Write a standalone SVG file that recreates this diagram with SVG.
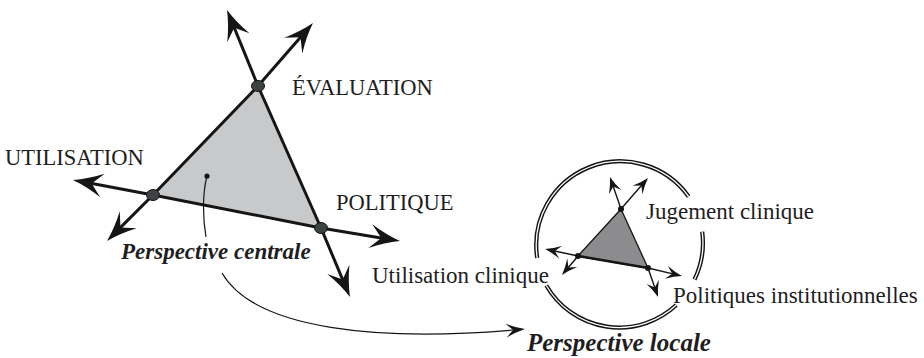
<svg xmlns="http://www.w3.org/2000/svg" width="924" height="358" viewBox="0 0 924 358" font-family="'Liberation Serif', 'Times New Roman', Times, serif">
<style>
text{font-family:"Liberation Serif","Times New Roman",Times,serif;fill:#1e1e1e}
.cap{font-size:22.5px}
.lab{font-size:23px}
.bi{font-size:23px;font-weight:bold;font-style:italic}
.ax{stroke:#151515;stroke-width:3;fill:none;marker-end:url(#ahB)}
.axs{stroke:#151515;stroke-width:1.4;fill:none;marker-end:url(#ahS)}
.ring{fill:none;stroke:#151515;stroke-width:4.2}
.ringw{fill:none;stroke:#fff;stroke-width:1.3}
</style>
<defs>
<marker id="ahB" markerUnits="userSpaceOnUse" orient="auto" markerWidth="50" markerHeight="50" refX="0" refY="0" viewBox="-25 -25 50 50" overflow="visible">
<path d="M10,0 Q-5,-4 -20,-12 L-9,0 L-20,12 Q-5,4 10,0 Z" fill="#151515"/>
</marker>
<marker id="ahS" markerUnits="userSpaceOnUse" orient="auto" markerWidth="30" markerHeight="30" refX="0" refY="0" viewBox="-15 -15 30 30" overflow="visible">
<path d="M5,0 Q-3,-2.2 -11,-6.5 L-5,0 L-11,6.5 Q-3,2.2 5,0 Z" fill="#151515"/>
</marker>
<marker id="ahM" markerUnits="userSpaceOnUse" orient="auto" markerWidth="30" markerHeight="30" refX="0" refY="0" viewBox="-15 -15 30 30" overflow="visible">
<path d="M6,0 Q-4,-2.5 -13,-7 L-6,0 L-13,7 Q-4,2.5 6,0 Z" fill="#151515"/>
</marker>
</defs>

<g id="central-perspective">
<polygon points="258,86 153,195 321,228" fill="#c8c9cb" stroke="#151515" stroke-width="3" stroke-linejoin="round"/>
<g id="axes-central">
<line class="ax" x1="258" y1="86" x2="306.4" y2="30.5"/>
<line class="ax" x1="258" y1="86" x2="230.8" y2="19.3"/>
<line class="ax" x1="153" y1="195" x2="82.8" y2="181.8"/>
<line class="ax" x1="153" y1="195" x2="114.1" y2="233.9"/>
<line class="ax" x1="321" y1="228" x2="390.1" y2="239.4"/>
<line class="ax" x1="321" y1="228" x2="346.1" y2="287.8"/>
</g>
<g id="vertex-evaluation"><ellipse cx="258" cy="86" rx="6.5" ry="5.5" fill="#3d4245" stroke="#151515" stroke-width="1"/></g>
<g id="vertex-utilisation"><ellipse cx="153" cy="195" rx="6.5" ry="5.5" fill="#3d4245" stroke="#151515" stroke-width="1"/></g>
<g id="vertex-politique"><ellipse cx="321" cy="228" rx="6.5" ry="5.5" fill="#3d4245" stroke="#151515" stroke-width="1"/></g>
<circle cx="207" cy="176" r="2.6" fill="#151515"/>
<path d="M207,176 C202,195 203,220 206,237" fill="none" stroke="#151515" stroke-width="1.2"/>
<text class="cap" x="292" y="95">ÉVALUATION</text>
<text class="cap" x="5" y="165">UTILISATION</text>
<text class="cap" x="336" y="210">POLITIQUE</text>
<text class="bi" x="121" y="259">Perspective centrale</text>
</g>

<g id="local-perspective">
<path class="ring" d="M537.2,258 A84,84 0 0 1 688.6,196.5"/>
<path class="ringw" d="M537.2,258 A84,84 0 0 1 688.6,196.5"/>
<path class="ring" d="M702.2,231.8 A84,84 0 0 1 694.5,279.5"/>
<path class="ringw" d="M702.2,231.8 A84,84 0 0 1 694.5,279.5"/>
<path class="ring" d="M676.3,305 A84,84 0 0 1 546.3,285.5"/>
<path class="ringw" d="M676.3,305 A84,84 0 0 1 546.3,285.5"/>
<polygon points="621,209 578,256 648,268" fill="#8c8c8e" stroke="#151515" stroke-width="1.3" stroke-linejoin="round"/>
<line x1="578" y1="256" x2="648" y2="268" stroke="#151515" stroke-width="2.6"/>
<g id="axes-local">
<line class="axs" x1="621" y1="209" x2="644.7" y2="181.8"/>
<line class="axs" x1="621" y1="209" x2="611.6" y2="181.7"/>
<line class="axs" x1="578" y1="256" x2="549.9" y2="250"/>
<line class="axs" x1="578" y1="256" x2="565.2" y2="271.2"/>
<line class="axs" x1="648" y1="268" x2="677.1" y2="274.9"/>
<line class="axs" x1="648" y1="268" x2="656.4" y2="292.3"/>
</g>
<g id="vertex-jugement"><circle cx="621" cy="209" r="3" fill="#151515"/></g>
<g id="vertex-utilisation-clinique"><circle cx="578" cy="256" r="3" fill="#151515"/></g>
<g id="vertex-politiques-inst"><circle cx="648" cy="268" r="3" fill="#151515"/></g>
<text class="lab" x="646" y="219">Jugement clinique</text>
<text class="lab" x="372" y="283">Utilisation clinique</text>
<text class="lab" x="673" y="303">Politiques institutionnelles</text>
<text class="bi" x="527" y="351" style="font-size:25px">Perspective locale</text>
</g>

<g id="connectors">
<path d="M222,273 C255,330 380,342 519,329.5" fill="none" stroke="#151515" stroke-width="1.2" marker-end="url(#ahM)"/>
</g>
</svg>
